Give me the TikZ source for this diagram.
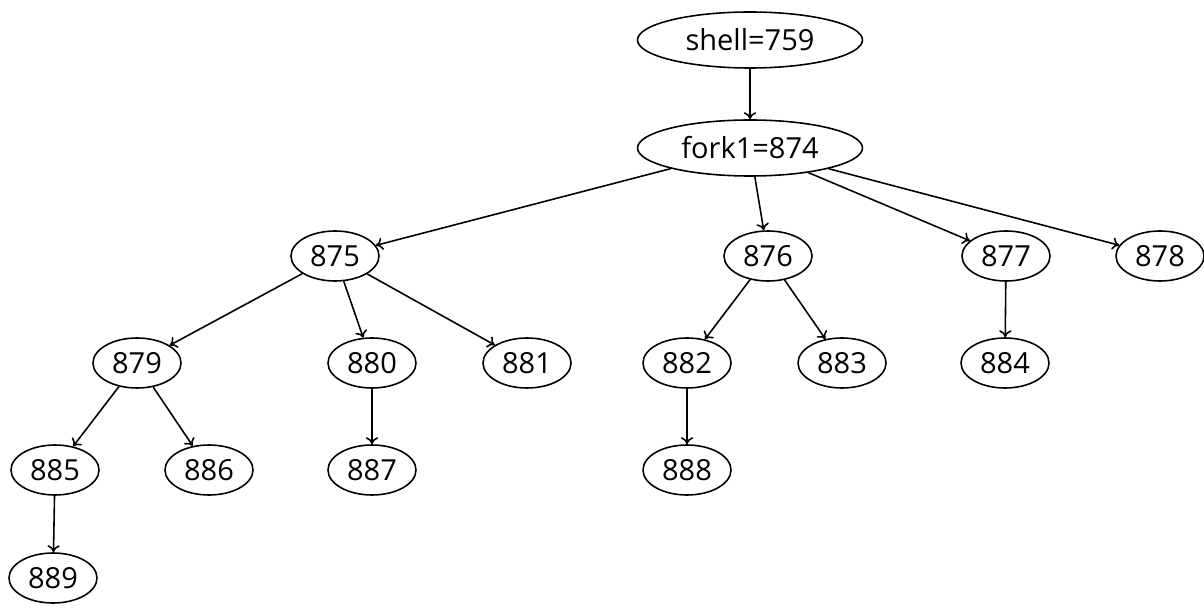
\documentclass[tikz,border=0pt]{standalone}
\usepackage{fontspec}
\setmainfont{Open Sans}
\usepackage{tikz}
\usetikzlibrary{arrows.meta, shapes.geometric, positioning}
\tikzset{
    proc/.style={draw, ellipse, line width=0.9pt, inner sep=0pt,
        minimum width=1.76cm, minimum height=1.0cm,
        font=\fontsize{16.5}{19}\selectfont},
    wide/.style={proc, minimum width=4.5cm, minimum height=1.12cm},
    link/.style={-{To[length=4pt, width=7pt]}, line width=0.9pt}
}
\newcommand{\proc}[3]{
    \node[proc] (#1) at (#2) {#3};
}
\begin{document}
\begin{tikzpicture}
                        \useasboundingbox (0, 0) rectangle (24.08, 12.18);
                        \node[wide] (shell) at (15.0, 11.38) {shell=759};
                        \node[wide] (fork) at (15.0, 9.22) {fork1=874};
                        \proc{p875}{6.70, 7.06}{875}
                        \proc{p876}{15.36, 7.06}{876}
                        \proc{p877}{20.12, 7.06}{877}
                        \proc{p878}{23.20, 7.06}{878}
                        \proc{p879}{2.74, 4.92}{879}
                        \proc{p880}{7.44, 4.92}{880}
                        \proc{p881}{10.54, 4.92}{881}
                        \proc{p882}{13.74, 4.92}{882}
                        \proc{p883}{16.84, 4.92}{883}
                        \proc{p884}{20.10, 4.92}{884}
                        \proc{p885}{1.10, 2.78}{885}
                        \proc{p886}{4.18, 2.78}{886}
                        \proc{p887}{7.44, 2.78}{887}
                        \proc{p888}{13.74, 2.78}{888}
                        \proc{p889}{1.06, 0.62}{889}
                        \draw[link] (shell) -- (fork);
                        \draw[link] (fork) -- (p875);
                        \draw[link] (fork) -- (p876);
                        \draw[link] (fork) -- (p877);
                        \draw[link] (fork) -- (p878);
                        \draw[link] (p875) -- (p879);
                        \draw[link] (p875) -- (p880);
                        \draw[link] (p875) -- (p881);
                        \draw[link] (p876) -- (p882);
                        \draw[link] (p876) -- (p883);
                        \draw[link] (p877) -- (p884);
                        \draw[link] (p879) -- (p885);
                        \draw[link] (p879) -- (p886);
                        \draw[link] (p880) -- (p887);
                        \draw[link] (p882) -- (p888);
                        \draw[link] (p885) -- (p889);
                    \end{tikzpicture}
\end{document}
